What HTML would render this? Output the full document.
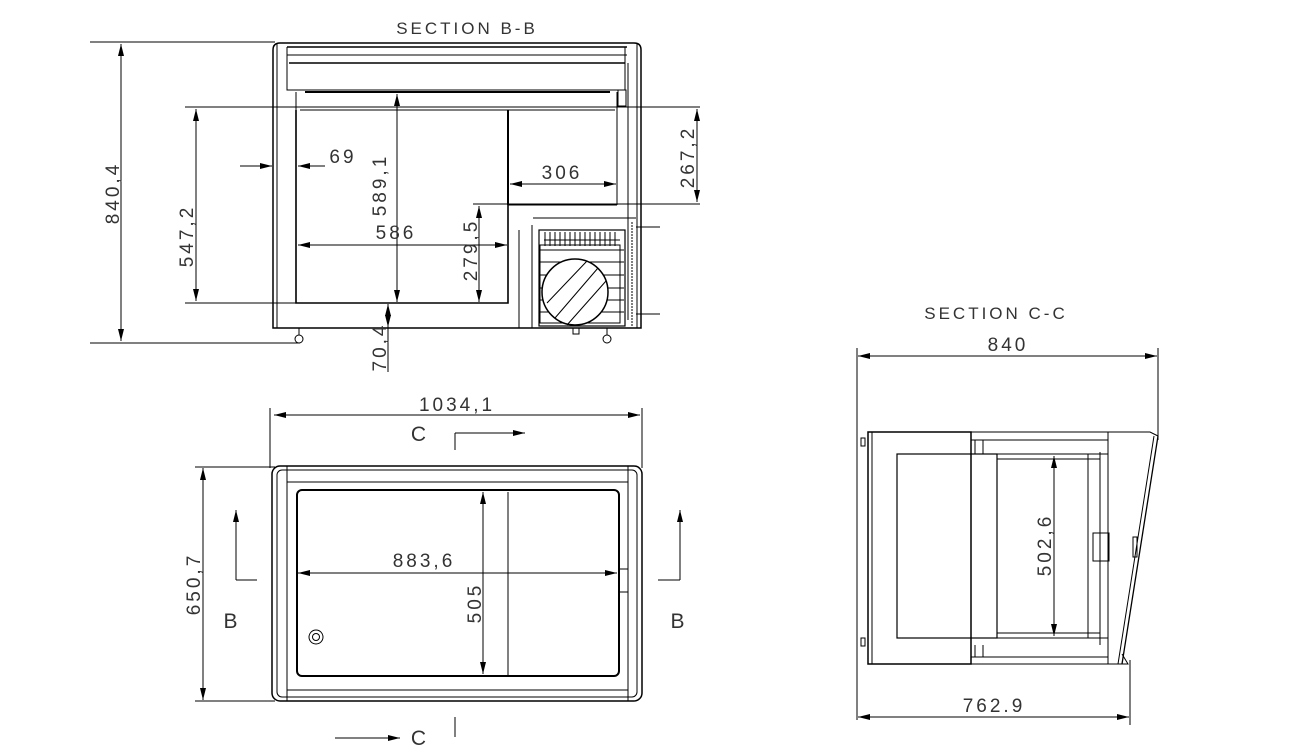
<!DOCTYPE html>
<html><head><meta charset="utf-8"><style>
html,body{margin:0;padding:0;background:#fff;}
svg{display:block;}
text{font-family:"Liberation Sans",sans-serif;font-size:19px;letter-spacing:3px;fill:#333;}
</style></head><body>
<svg width="1293" height="747" viewBox="0 0 1293 747" xmlns="http://www.w3.org/2000/svg">
<defs>
<marker id="a" viewBox="0 0 12 6" refX="12" refY="3" markerWidth="12" markerHeight="6" markerUnits="userSpaceOnUse" orient="auto-start-reverse"><path d="M0,0 L12,3 L0,6z" fill="#000"/></marker>
</defs>
<g stroke="#000" fill="none" stroke-width="1">
<path d="M273,328 V50 Q273,43 280,43 H634 Q641,43 641,50 V328 Z" stroke-width="1.5"/>
<line x1="277" y1="43" x2="277" y2="328"/>
<line x1="637" y1="43" x2="637" y2="328"/>
<line x1="287" y1="47" x2="627" y2="47" stroke-width="1.5"/>
<line x1="287" y1="55" x2="627" y2="55"/>
<line x1="289" y1="63" x2="625" y2="63" stroke-width="1.5"/>
<path d="M287,47 V90 H625 V47"/>
<line x1="305" y1="92" x2="610" y2="92" stroke-width="2"/>
<line x1="300" y1="110" x2="615" y2="110"/>
<path d="M296,92 V110 M617,92 V110"/>
<path d="M296,110 V303 H508 V110" stroke-width="1.6"/>
<line x1="508" y1="110" x2="508" y2="205" stroke-width="2"/>
<line x1="508" y1="205" x2="617" y2="205"/>
<line x1="617" y1="110" x2="617" y2="205"/>
<line x1="628" y1="63" x2="628" y2="320"/>
<rect x="618" y="90" width="8" height="16"/>
<path d="M533,218 H636 M532,225 V328 M519,230 V328" />
<rect x="539" y="230" width="86" height="96" stroke-width="1.2"/>
<rect x="540" y="245" width="80" height="78" fill="#fff" stroke="#000"/>
<g stroke-width="1">
<path d="M544,240 h76 M540,250 h84 M540,262 h84 M540,275 h84 M540,288 h84 M540,300 h84 M540,312 h84"/>
<path d="M545,232 v14 M550,232 v14 M555,232 v14 M560,232 v14 M565,232 v14 M570,232 v14 M575,232 v14 M580,232 v14 M585,232 v14 M590,232 v14 M595,232 v14 M600,232 v14 M605,232 v14 M610,232 v14 M615,232 v14"/>
</g>
<circle cx="575" cy="292" r="33" fill="#fff" stroke-width="1.5"/>
<path d="M555,318 L598,268 M547,303 L587,261 M567,325 L606,281"/>
<line x1="632" y1="222" x2="632" y2="326" stroke-dasharray="2 1"/>
<path d="M636,227 H660 M636,314 H660"/>
<circle cx="299" cy="339" r="4"/><circle cx="607" cy="339" r="4"/>
<path d="M299,328 v7 M607,328 v7 M573,328 v6 h6 v-6"/>
<path d="M90,42 H275 M90,343 H300 M185,107 H700 M185,303 H297 M473,204 H700"/>
<line x1="121" y1="44" x2="121" y2="341" marker-start="url(#a)" marker-end="url(#a)"/>
<line x1="196" y1="109" x2="196" y2="301" marker-start="url(#a)" marker-end="url(#a)"/>
<line x1="697" y1="109" x2="697" y2="202" marker-start="url(#a)" marker-end="url(#a)"/>
<line x1="397" y1="94" x2="397" y2="302" marker-start="url(#a)" marker-end="url(#a)"/>
<line x1="479" y1="206" x2="479" y2="302" marker-start="url(#a)" marker-end="url(#a)"/>
<line x1="298" y1="245" x2="507" y2="245" marker-start="url(#a)" marker-end="url(#a)"/>
<line x1="510" y1="184" x2="616" y2="184" marker-start="url(#a)" marker-end="url(#a)"/>
<line x1="240" y1="166" x2="272" y2="166" marker-end="url(#a)"/>
<line x1="325" y1="166" x2="298" y2="166" marker-end="url(#a)"/>
<line x1="388" y1="304" x2="388" y2="327" marker-start="url(#a)" marker-end="url(#a)" />
<line x1="388" y1="327" x2="388" y2="372"/>
<rect x="272" y="466" width="370" height="235" rx="8" stroke-width="1.5"/>
<rect x="277" y="470" width="360" height="227" rx="5"/>
<line x1="287" y1="466" x2="287" y2="701"/><line x1="628" y1="466" x2="628" y2="701"/>
<path d="M287,482 H628 M287,690 H628"/>
<rect x="297" y="490" width="322" height="186" rx="5" stroke-width="2"/>
<line x1="508" y1="492" x2="508" y2="675"/>
<circle cx="316" cy="637" r="7"/><circle cx="316" cy="637" r="3.5"/>
<rect x="619" y="569" width="9" height="23"/>
<path d="M270,408 V468 M642,408 V468"/>
<line x1="274" y1="415" x2="640" y2="415" marker-start="url(#a)" marker-end="url(#a)"/>
<path d="M195,467 H275 M195,701 H275"/>
<line x1="203" y1="468" x2="203" y2="700" marker-start="url(#a)" marker-end="url(#a)"/>
<line x1="298" y1="573" x2="617" y2="573" marker-start="url(#a)" marker-end="url(#a)"/>
<line x1="483" y1="492" x2="483" y2="674" marker-start="url(#a)" marker-end="url(#a)"/>
<path d="M455,450 V433"/><line x1="455" y1="433" x2="525" y2="433" marker-end="url(#a)"/>
<path d="M455,717 V737"/><line x1="335" y1="738" x2="400" y2="738" marker-end="url(#a)"/>
<path d="M236,580 H257"/><line x1="236" y1="580" x2="236" y2="510" marker-end="url(#a)"/>
<path d="M658,580 H680"/><line x1="680" y1="580" x2="680" y2="510" marker-end="url(#a)"/>
<rect x="868" y="432" width="103" height="232" stroke-width="1.5"/>
<line x1="872" y1="432" x2="872" y2="664"/>
<path d="M971,432 H1108 M971,440 H1108 M971,657 H1108 M971,664 H1108"/>
<path d="M975,440 V454 M983,440 V454 M975,645 V657 M983,645 V657"/>
<rect x="897" y="454" width="100" height="184" stroke-width="1.2"/>
<path d="M997,454 H1108 M997,638 H1108 M997,459 H1100 M997,633 H1100"/>
<path d="M1108,432 V664 M1100,452 V645 M1088,454 V638"/>
<path d="M1158,436 L1122,664" stroke-width="1.3"/><path d="M1154,436 L1118,664"/>
<path d="M1108,432 H1150 L1158,436 M1108,664 H1128 L1122,654"/>
<rect x="1093" y="533" width="16" height="28"/>
<rect x="1133" y="537" width="4" height="20"/>
<path d="M861,438 v8 h4 v-8 z M861,638 v8 h4 v-8 z"/>
<path d="M857,348 V720 M1158,348 V440 M1130,660 V725"/>
<line x1="858" y1="356" x2="1157" y2="356" marker-start="url(#a)" marker-end="url(#a)"/>
<line x1="858" y1="717" x2="1129" y2="717" marker-start="url(#a)" marker-end="url(#a)"/>
<line x1="1054" y1="456" x2="1054" y2="636" marker-start="url(#a)" marker-end="url(#a)"/>
</g>
<text x="467" y="34" text-anchor="middle" style="font-size:17px">SECTION B-B</text>
<text x="996" y="319" text-anchor="middle" style="font-size:17px">SECTION C-C</text>
<text x="1008" y="351" text-anchor="middle">840</text>
<text x="994" y="712" text-anchor="middle">762.9</text>
<text x="457" y="411" text-anchor="middle">1034,1</text>
<text x="424" y="567" text-anchor="middle">883,6</text>
<text x="343" y="163" text-anchor="middle">69</text>
<text x="562" y="179" text-anchor="middle">306</text>
<text x="396" y="239" text-anchor="middle">586</text>
<text x="420" y="441" text-anchor="middle" style="font-size:21px">C</text>
<text x="420" y="745" text-anchor="middle" style="font-size:21px">C</text>
<text x="232" y="628" text-anchor="middle" style="font-size:21px">B</text>
<text x="679" y="628" text-anchor="middle" style="font-size:21px">B</text>
<text transform="translate(119,193) rotate(-90)" text-anchor="middle">840,4</text>
<text transform="translate(193,236) rotate(-90)" text-anchor="middle">547,2</text>
<text transform="translate(386,185) rotate(-90)" text-anchor="middle">589,1</text>
<text transform="translate(477,250) rotate(-90)" text-anchor="middle">279,5</text>
<text transform="translate(694,157) rotate(-90)" text-anchor="middle">267,2</text>
<text transform="translate(386,347) rotate(-90)" text-anchor="middle">70,4</text>
<text transform="translate(200,584) rotate(-90)" text-anchor="middle">650,7</text>
<text transform="translate(481,603) rotate(-90)" text-anchor="middle">505</text>
<text transform="translate(1051,545) rotate(-90)" text-anchor="middle">502,6</text>
</svg>
</body></html>
